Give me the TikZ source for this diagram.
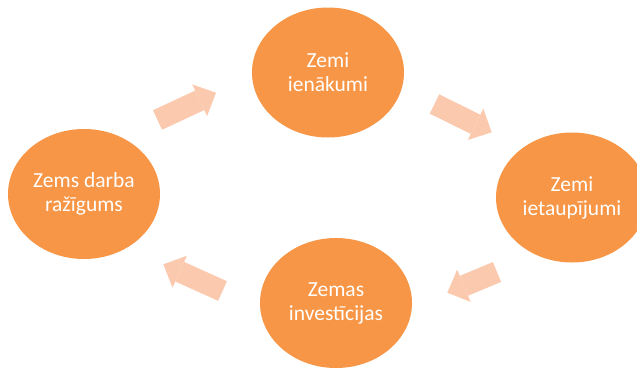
\documentclass[tikz,border=0pt]{standalone}
\usepackage{fontspec}
\setmainfont{Carlito}
\usepackage{tikz}
\usetikzlibrary{shapes.geometric,arrows.meta}
\definecolor{ovalorange}{HTML}{F79646}
\definecolor{arrowpeach}{HTML}{FBC9AE}
\begin{document}
\begin{tikzpicture}[x=1pt,y=-1pt,
  main/.style = {ellipse, fill=ovalorange, text=white, align=center, inner sep=0pt,
    minimum width=152pt, minimum height=130pt, font=\fontsize{21.5}{24}\selectfont},
  flow/.style = {draw=arrowpeach, line width=21.5pt,
    -{Triangle[length=18pt,width=35pt,line width=0pt,fill=arrowpeach]}}]
\useasboundingbox (0,0) rectangle (637,370);
\node[main] (ienak) at (328,72.5) {Zemi\\ienākumi};
\node[main] (ietaup) at (572,197.5) {Zemi\\ietaupījumi};
\node[main] (invest) at (336,303) {Zemas\\investīcijas};
\node[main] (razig) at (84,194) {Zems darba\\ražīgums};
\coordinate (a1s) at (157.5,120);
\coordinate (a1e) at (216,92.7);
\coordinate (a2s) at (434.5,104);
\coordinate (a2e) at (491.7,132.3);
\coordinate (a3s) at (497,272);
\coordinate (a3e) at (447.3,292.7);
\coordinate (a4s) at (222.5,291);
\coordinate (a4e) at (163.3,264.3);
\draw[flow] (a1s) -- (a1e);
\draw[flow] (a2s) -- (a2e);
\draw[flow] (a3s) -- (a3e);
\draw[flow] (a4s) -- (a4e);
\end{tikzpicture}
\end{document}
